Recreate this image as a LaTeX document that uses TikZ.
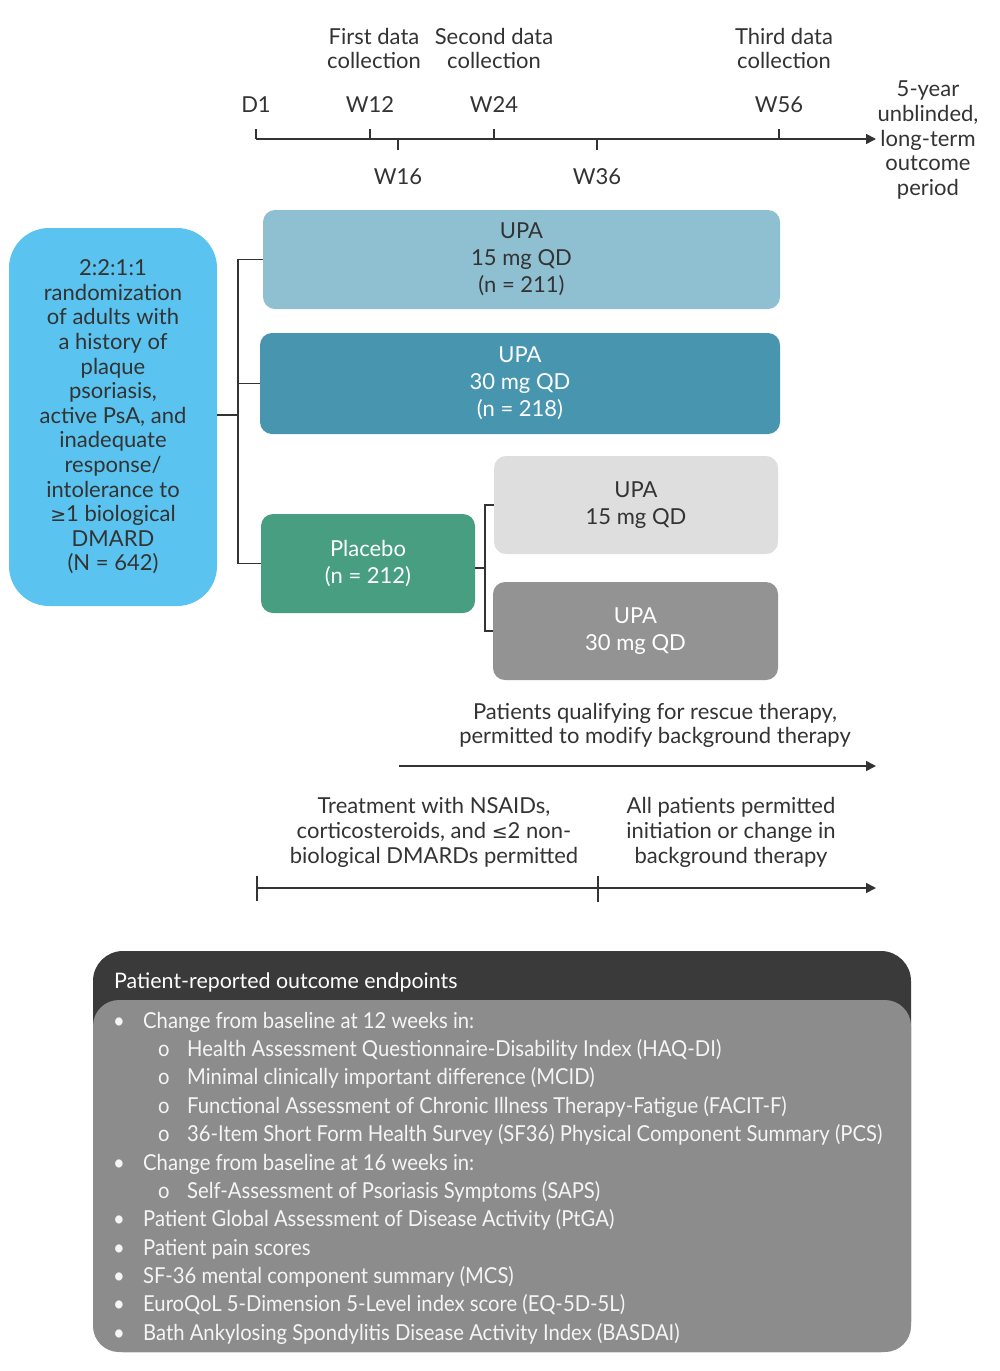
\documentclass[tikz,border=0pt]{standalone}
\usepackage{fontspec}
\setmainfont{Lato}
\newfontfamily\condfont[FakeStretch=0.92]{Lato}
\usetikzlibrary{arrows.meta}
\definecolor{txt}{HTML}{333333}
\definecolor{lblue}{HTML}{5BC3EF}
\definecolor{bxa}{HTML}{8FC0D2}
\definecolor{bxb}{HTML}{4795AE}
\definecolor{bxg}{HTML}{479E80}
\definecolor{bxl}{HTML}{DEDEDE}
\definecolor{bxd}{HTML}{939393}
\definecolor{hdr}{HTML}{3A3A3A}
\definecolor{inner}{HTML}{8C8C8C}
\tikzset{
  lbl/.style={text=txt, align=center, inner sep=0pt, font=\fontsize{22}{24.7}\selectfont},
  arm/.style={rounded corners=12pt, inner sep=0pt, align=center, font=\fontsize{22}{27}\selectfont},
  ln/.style={draw=txt, line width=1.6pt},
  arr/.style={ln, -{Triangle[length=10pt,width=10pt]}},
  item/.style={anchor=base west, inner sep=0pt, text=white!96!black, font=\condfont\fontsize{22}{25}\selectfont},
}
\begin{document}
\begin{tikzpicture}[x=1pt,y=-1pt]
\useasboundingbox (0,0) rectangle (1000,1371);
% ---------- timeline ----------
\coordinate (t0) at (256,139);
\coordinate (tend) at (876,139);
\coordinate (k12) at (370,139);
\coordinate (k24) at (494,139);
\coordinate (k56) at (779,139);
\coordinate (k16) at (398,139);
\coordinate (k36) at (597,139);
\draw[arr] (t0) -- (tend);
\draw[ln] (t0) -- ++(0,-10);
\draw[ln] (k12) -- ++(0,-10);
\draw[ln] (k24) -- ++(0,-10);
\draw[ln] (k56) -- ++(0,-10);
\draw[ln] (k16) -- ++(0,11);
\draw[ln] (k36) -- ++(0,11);
\node[lbl] (d1) at (256,105) {D1};
\node[lbl] (w12) at (370,105) {W12};
\node[lbl] (w24) at (494,105) {W24};
\node[lbl] (w56) at (779,105) {W56};
\node[lbl] (w16) at (398,177) {W16};
\node[lbl] (w36) at (597,177) {W36};
\node[lbl] (c1) at (374,48.5) {First data\\collection};
\node[lbl] (c2) at (494,48.5) {Second data\\collection};
\node[lbl] (c3) at (784,48.5) {Third data\\collection};
\node[lbl] (fy) at (928,140) {5-year\\unblinded,\\long-term\\outcome\\period};
% ---------- arms ----------
\node[fill=lblue, rounded corners=40pt, minimum width=208pt, minimum height=378pt, text=txt, align=center, inner sep=0pt, font=\fontsize{22}{24.6}\selectfont] (lb) at (113,417)
 {2:2:1:1\\randomization\\of adults with\\a history of\\plaque\\psoriasis,\\active PsA, and\\inadequate\\response/\\intolerance to\\{\fontspec{DejaVu Sans}\fontsize{19}{24.6}\selectfont≥}1 biological\\DMARD\\(N = 642)};
\node[arm, fill=bxa, text=txt, minimum width=517pt, minimum height=99pt] (b1) at (521.5,259.5) {UPA\\15 mg QD\\(n = 211)};
\node[arm, fill=bxb, text=white, minimum width=520pt, minimum height=101pt] (b2) at (520,383.5) {UPA\\30 mg QD\\(n = 218)};
\node[arm, fill=bxg, text=white, minimum width=214pt, minimum height=99pt] (pl) at (368,563.5) {Placebo\\(n = 212)};
\node[arm, fill=bxl, text=txt, minimum width=284pt, minimum height=98pt] (b3) at (636,505) {UPA\\15 mg QD};
\node[arm, fill=bxd, text=white, minimum width=285pt, minimum height=98pt] (b4) at (635.5,631) {UPA\\30 mg QD};
\coordinate (bj) at (238,415);
\coordinate (bj2) at (485,568);
\draw[ln] (lb.east |- bj) -- (bj);
\draw[ln] (b1.west) -- (b1.west -| bj) -- (pl.west -| bj) -- (pl.west);
\draw[ln] (b2.west) -- (b2.west -| bj);
\draw[ln] (pl.east |- bj2) -- (bj2);
\draw[ln] (b3.west) -- (b3.west -| bj2) -- (b4.west -| bj2) -- (b4.west);
% ---------- therapy timelines ----------
\node[lbl] (rescue) at (655,725.5) {Patients qualifying for rescue therapy,\\permitted to modify background therapy};
\coordinate (r0) at (399,766);
\coordinate (r1) at (876,766);
\draw[arr] (r0) -- (r1);
\node[lbl] (nsaid) at (434,832.5) {Treatment with NSAIDs,\\corticosteroids, and {\fontspec{DejaVu Sans}\fontsize{19}{24.7}\selectfont≤}2 non-\\biological DMARDs permitted};
\node[lbl] (allp) at (731,832.5) {All patients permitted\\initiation or change in\\background therapy};
\coordinate (s0) at (257,888);
\coordinate (s1) at (598,888);
\coordinate (s2) at (876,888);
\draw[arr] (s0) -- (s2);
\draw[ln] (s0) ++(0,-12) -- ++(0,25);
\draw[ln] (s1) ++(0,-12) -- ++(0,26);
% ---------- endpoints box ----------
\fill[hdr, rounded corners=30pt] (93,951) rectangle (911,1352);
\fill[inner, rounded corners=26pt] (93,1000) rectangle (911,1352);
\node[anchor=base west, inner sep=0pt, text=white, font=\fontsize{21.4}{24}\selectfont] (ht) at (114,988) {Patient-reported outcome endpoints};
\foreach \y/\lev/\t [count=\i] in {
 1028/0/{Change from baseline at 12 weeks in:},
 1056/1/{Health Assessment Questionnaire-Disability Index (HAQ-DI)},
 1084/1/{Minimal clinically important difference (MCID)},
 1113/1/{Functional Assessment of Chronic Illness Therapy-Fatigue (FACIT-F)},
 1141/1/{36-Item Short Form Health Survey (SF36) Physical Component Summary (PCS)},
 1170/0/{Change from baseline at 16 weeks in:},
 1198/1/{Self-Assessment of Psoriasis Symptoms (SAPS)},
 1226/0/{Patient Global Assessment of Disease Activity (PtGA)},
 1255/0/{Patient pain scores},
 1283/0/{SF-36 mental component summary (MCS)},
 1311/0/{EuroQoL 5-Dimension 5-Level index score (EQ-5D-5L)},
 1340/0/{Bath Ankylosing Spondylitis Disease Activity Index (BASDAI)}}{
  \ifnum\lev=0
    \node[item] (bu\i) at (113,\y) {\textbullet};
    \node[item] (it\i) at (143,\y) {\t};
  \else
    \node[item] (bu\i) at (158,\y) {o};
    \node[item] (it\i) at (187,\y) {\t};
  \fi
}
\end{tikzpicture}
\end{document}
